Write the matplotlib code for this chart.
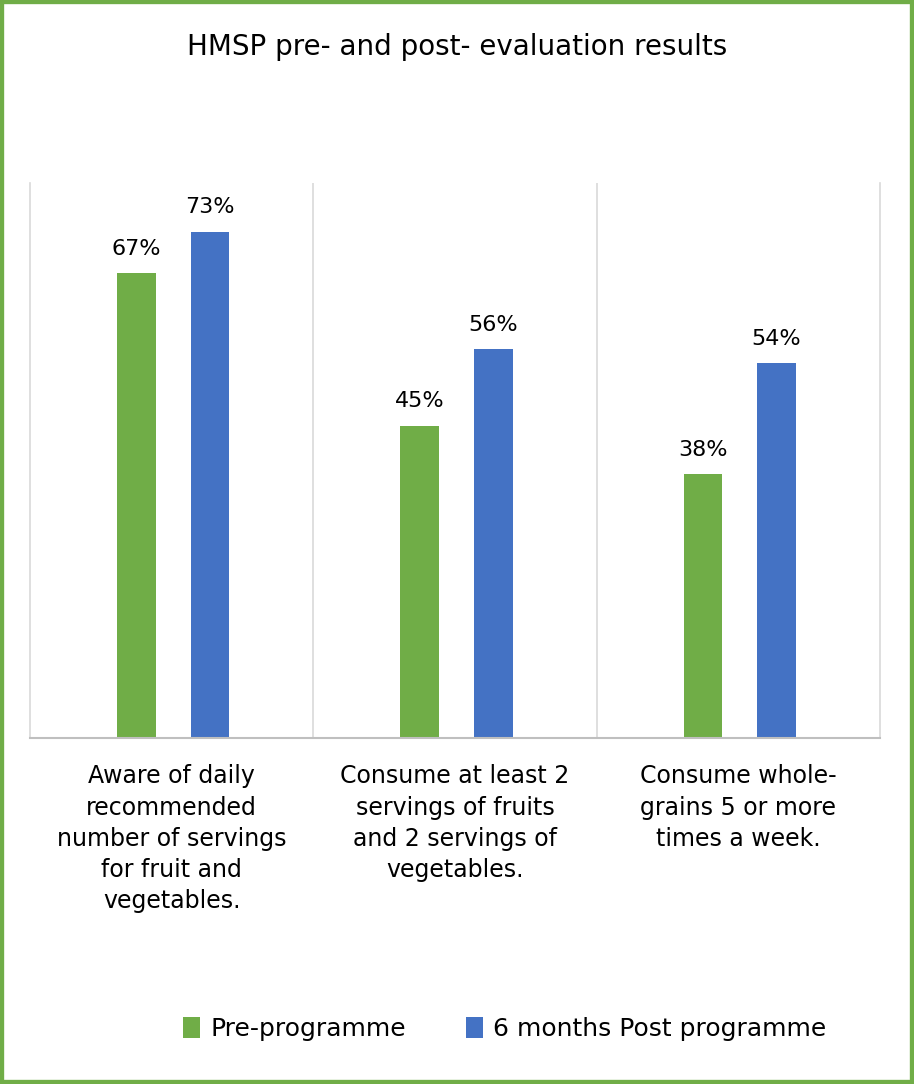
import matplotlib.pyplot as plt
import numpy as np
from matplotlib.patches import Rectangle

categories = [
    "Aware of daily\nrecommended\nnumber of servings\nfor fruit and\nvegetables.",
    "Consume at least 2\nservings of fruits\nand 2 servings of\nvegetables.",
    "Consume whole-\ngrains 5 or more\ntimes a week.",
]
series_names = ["Pre-programme", "6 months Post programme"]
pre_values = [0.67, 0.45, 0.38]
post_values = [0.73, 0.56, 0.54]
title = "HMSP pre- and post- evaluation results"

GREEN = "#70AD47"
BLUE = "#4472C4"
GRID = "#D9D9D9"

plt.rcParams["font.family"] = ["DejaVu Sans"]

fig = plt.figure(figsize=(9.14, 10.84), dpi=100)
ax = fig.add_axes([30 / 914, 1 - 738 / 1084, 850 / 914, 555 / 1084])

x = np.arange(len(categories))
w = 0.137
off = 0.13
b1 = ax.bar(x - off + 0.005, pre_values, w, color=GREEN, label=series_names[0])
b2 = ax.bar(x + off + 0.005, post_values, w, color=BLUE, label=series_names[1])

for bars in (b1, b2):
    for r in bars:
        ax.annotate(f"{r.get_height() * 100:.0f}%",
                    (r.get_x() + r.get_width() / 2, r.get_height()),
                    xytext=(0, 10.5), textcoords="offset points",
                    ha="center", va="bottom", fontsize=16, color="#000000")

ax.set_xlim(-0.5, len(categories) - 0.5)
ax.set_ylim(0, 0.8)
for xv in np.arange(0.5, len(categories) - 0.5, 1):
    ax.axvline(xv, color=GRID, lw=1.2, zorder=0)

ax.set_yticks([])
ax.set_xticks(x)
ax.set_xticklabels(categories, fontsize=17, linespacing=1.38, va="top")
ax.tick_params(axis="x", length=0, pad=19)
ax.spines["top"].set_visible(False)
for s in ("left", "right"):
    ax.spines[s].set_color(GRID)
    ax.spines[s].set_linewidth(1.2)
ax.spines["bottom"].set_color("#BFBFBF")
ax.spines["bottom"].set_linewidth(1.5)

fig.text(0.5, 1 - 47 / 1084, title, ha="center", va="center",
         fontsize=20, color="#000000")

fig.legend(handles=[b1, b2], labels=series_names, loc="center",
           bbox_to_anchor=(0.552, 1 - 1029 / 1084), ncol=2, frameon=False,
           fontsize=18, handlelength=0.7, handleheight=0.9,
           handletextpad=0.4, columnspacing=2.4)

fig.patches.append(Rectangle((0, 0), 1, 1, transform=fig.transFigure,
                             fill=False, edgecolor=GREEN, lw=6))

fig.savefig("out.png", dpi=100)
